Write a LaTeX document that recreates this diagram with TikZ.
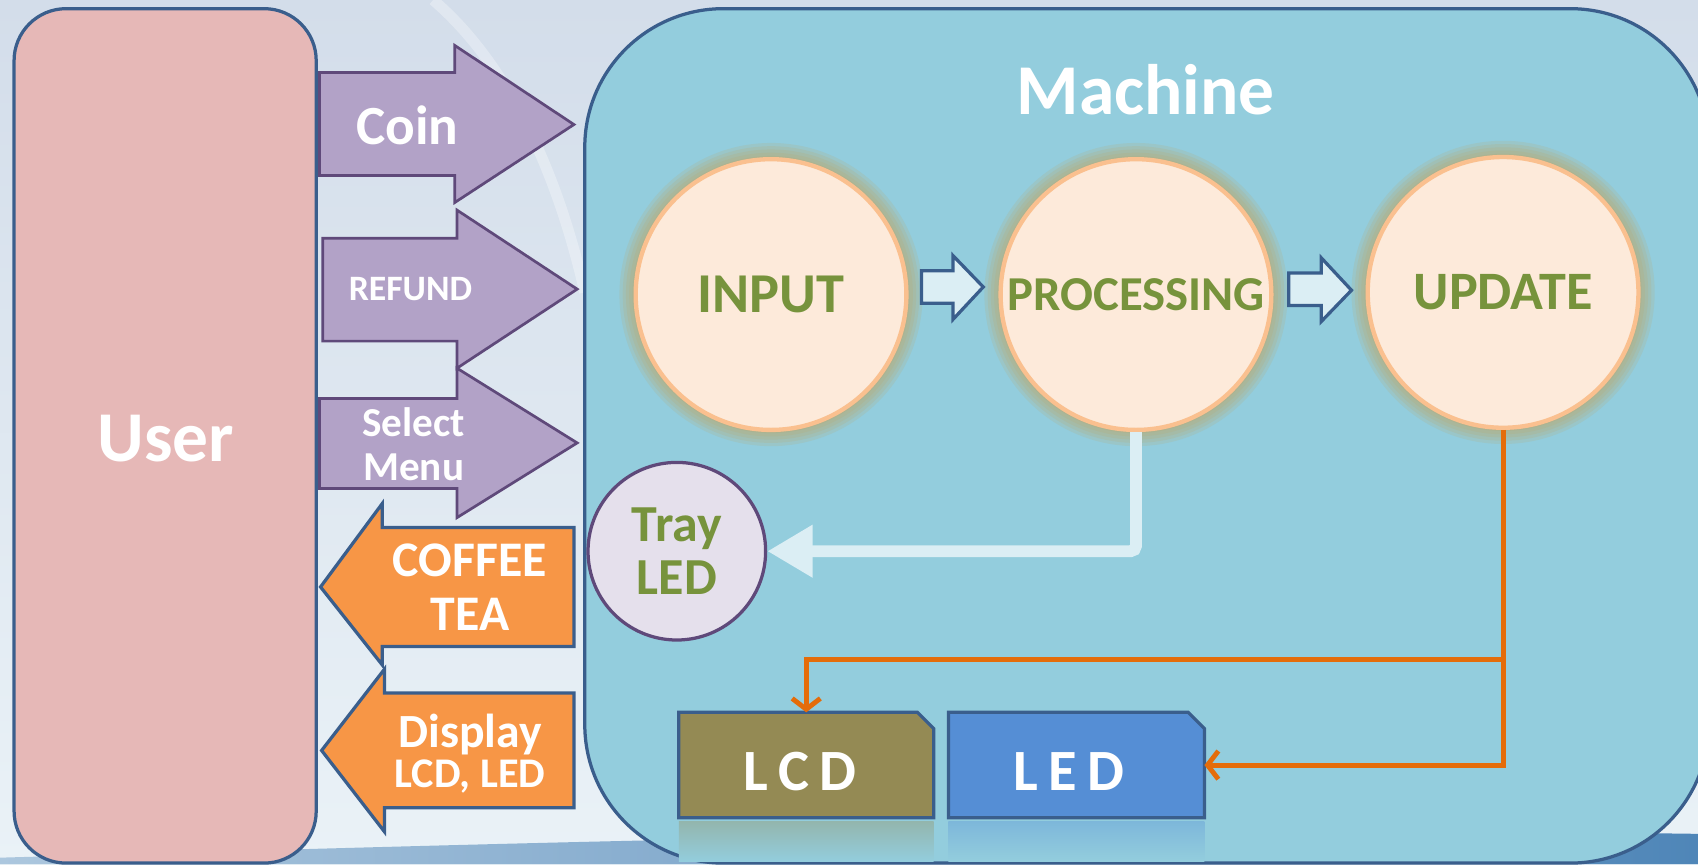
\documentclass[tikz,border=0pt]{standalone}
\usepackage{fontspec}
\setmainfont{Carlito}
\usetikzlibrary{arrows.meta}
\definecolor{bgtop}{HTML}{D3DDEA}
\definecolor{bgbot}{HTML}{EAF2F7}
\definecolor{wave}{HTML}{4F86B8}
\definecolor{userc}{HTML}{E6B8B7}
\definecolor{edge}{HTML}{3A5E8C}
\definecolor{machc}{HTML}{93CDDD}
\definecolor{purp}{HTML}{B2A2C7}
\definecolor{purpedge}{HTML}{5F497A}
\definecolor{orng}{HTML}{F79646}
\definecolor{circc}{HTML}{FDEADA}
\definecolor{circedge}{HTML}{FAC08F}
\definecolor{glowc}{HTML}{BFA462}
\definecolor{grn}{HTML}{77933C}
\definecolor{trayc}{HTML}{E5E0EC}
\definecolor{lcdc}{HTML}{948A54}
\definecolor{ledc}{HTML}{558ED5}
\definecolor{oline}{HTML}{E46C0A}
\definecolor{lightc}{HTML}{DBEEF4}
\tikzset{
  wt/.style={text=white, font=\bfseries, align=center, inner sep=0pt},
  gt/.style={text=grn, font=\bfseries, align=center, inner sep=0pt},
  purparrow/.style={fill=purp, draw=purpedge, line width=2.5pt, line join=miter},
  orngarrow/.style={fill=orng, draw=edge, line width=3pt, line join=miter},
  smallarrow/.style={fill=lightc, draw=edge, line width=3pt, line join=miter},
  proc/.style={circle, fill=circc, draw=circedge, line width=4pt, minimum size=250pt, inner sep=0pt},
  olink/.style={draw=oline, line width=4.5pt, -{Straight Barb[length=10pt,width=26pt,line width=4.5pt]}},
  disp/.style={fill=#1, draw=edge, line width=3pt, line join=miter},
  spaced/.style={wt, font=\bfseries\fsz{54}\addfontfeature{LetterSpace=18}}
}
\newcommand{\fsz}[1]{\fontsize{#1}{#1}\selectfont}
\begin{document}
\begin{tikzpicture}[x=1pt,y=-1pt]
\useasboundingbox (0,0) rectangle (1568,798);
% background
\shade[top color=bgtop, bottom color=bgbot] (0,0) rectangle (1568,798);
\draw[white, opacity=0.3, line width=10pt] (400,0) .. controls (470,60) and (515,160) .. (540,270);
\shade[left color=wave!40!bgbot, right color=wave] (0,798) -- (0,792) .. controls (500,778) and (1000,762) .. (1568,770) -- (1568,798) -- cycle;
% user box
\draw[fill=userc, draw=edge, line width=3pt, rounded corners=48pt] (13,8) rectangle (292,797);
\node[wt, font=\bfseries\fsz{66}] (user) at (153,405) {User};
% machine box
\draw[fill=machc, draw=edge, line width=3pt, rounded corners=128pt] (540,8) rectangle (1578,797);
\node[wt, font=\bfseries\fsz{66}] (mach) at (1058,83) {Machine};
% input arrows
\draw[purparrow] (295,67) -- (420,67) -- (420,42) -- (530,115) -- (420,187) -- (420,162) -- (295,162) -- cycle;
\node[wt, font=\bfseries\fsz{51}] (coin) at (376,116) {Coin};
\draw[purparrow] (298,220) -- (422,220) -- (422,194) -- (533,267) -- (422,340) -- (422,315) -- (298,315) -- cycle;
\node[wt, font=\bfseries\fsz{33}] (refund) at (379,267) {REFUND};
\draw[purparrow] (295,368) -- (422,368) -- (422,340) -- (533,409) -- (422,478) -- (422,451) -- (295,451) -- cycle;
\node[wt, font=\bfseries\fsz{38}] (select) at (382,410) {Select\\[3pt]Menu};
% output arrows
\draw[orngarrow] (530,487) -- (353,487) -- (353,465) -- (296,542) -- (353,614) -- (353,597) -- (530,597) -- cycle;
\node[wt, font=\bfseries\fsz{46}] (coffee) at (434,542) {COFFEE\\[4pt]TEA};
\draw[orngarrow] (530,640) -- (355,640) -- (355,618) -- (297,693) -- (355,768) -- (355,746) -- (530,746) -- cycle;
\node[wt] (display) at (434,696) {{\bfseries\fsz{44}Display}\\[4pt]{\bfseries\fsz{39}LCD, LED}};
% glows
\foreach \cx/\cy in {712/272, 1049/272, 1388/270}{
  \foreach \d in {14,11,8,5,2}{
    \fill[glowc, opacity=0.17] (\cx,\cy) circle (126+\d);
  }
}
% process circles
\node[proc] (input) at (712,272) {};
\node[gt, font=\bfseries\fsz{52}] (inputt) at (input) {INPUT};
\node[proc] (proc) at (1049,272) {};
\node[gt, font=\bfseries\fsz{45}] (proct) at (proc) {PROCESSING};
\node[proc] (upd) at (1388,270) {};
\node[gt, font=\bfseries\fsz{50}] (updt) at (upd) {UPDATE};
% small arrows between circles
\draw[smallarrow] (851,250) -- (880,250) -- (880,236) -- (908,265) -- (880,295) -- (880,280) -- (851,280) -- cycle;
\draw[smallarrow] (1190,252) -- (1220,252) -- (1220,238) -- (1248,268) -- (1220,297) -- (1220,282) -- (1190,282) -- cycle;
% tray led
\node[circle, fill=trayc, draw=purpedge, line width=3pt, minimum size=164pt, inner sep=0pt] (tray) at (625,509) {};
\node[gt, font=\bfseries\fsz{48}] (trayt) at (tray) {Tray\\[1pt]LED};
% lcd / led boxes
\node[inner sep=0pt, minimum width=235pt, minimum height=97pt] (lcd) at (744.5,706.5) {};
\node[inner sep=0pt, minimum width=236pt, minimum height=97pt] (led) at (994,706.5) {};
\foreach \b/\c in {lcd/lcdc, led/ledc}{
  \shade[top color=\c!35!machc, bottom color=machc] ([yshift=-3pt]\b.south west) rectangle ([yshift=-40pt]\b.south east);
  \draw[disp=\c] (\b.south west) -- (\b.north west) -- ([xshift=-15pt]\b.north east) -- ([yshift=-15pt]\b.north east) -- (\b.south east) -- cycle;
}
\node[spaced] (lcdt) at (739,712) {LCD};
\node[spaced] (ledt) at (987,712) {LED};
% connectors
\draw[draw=lightc, line width=11pt, rounded corners=5pt, -{Triangle[length=42pt,width=46pt]}] (proc.south) |- (tray.east);
\coordinate (j1) at (1388,609);
\draw[olink] (upd.south) |- (led.east);
\draw[olink] (j1) -| (lcd.north);
\end{tikzpicture}
\end{document}
